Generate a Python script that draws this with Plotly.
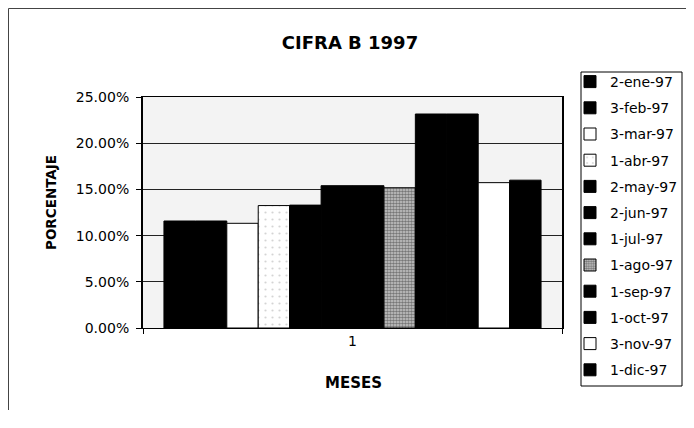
import plotly.graph_objects as go

# Datos (fracción, eje en %)
categoria = ["1"]
meses = ["2-ene-97", "3-feb-97", "3-mar-97", "1-abr-97", "2-may-97", "2-jun-97",
         "1-jul-97", "1-ago-97", "1-sep-97", "1-oct-97", "3-nov-97", "1-dic-97"]
valores = [0.1158, 0.1158, 0.1133, 0.1325, 0.1330, 0.1540,
           0.1540, 0.1518, 0.2316, 0.2316, 0.1573, 0.1600]

# relleno de cada barra: negro, blanco o trama
rellenos = ["black", "black", "white", "dots", "black", "black",
            "black", "grey", "black", "black", "white", "black"]

FONT = "DejaVu Sans"
# la página tiene 8 px de margen en el body: la figura se dibuja 8 px más pequeña
W, H = 686, 420
PL, PT, PW, PH = 135, 89, 419, 231   # área del gráfico en px de la figura


def px(x):  # px de figura -> coordenada paper
    return (x - PL) / PW


def py(y):
    return (PT + PH - y) / PH


fig = go.Figure()

for i, (mes, v, r) in enumerate(zip(meses, valores, rellenos)):
    marker = {"line": {"color": "black", "width": 1}}
    if r == "black":
        marker["color"] = "black"
    elif r == "white":
        marker["color"] = "white"
    elif r == "dots":
        marker["color"] = "white"
        marker["pattern"] = {"shape": ".", "fgcolor": "#aaa", "bgcolor": "white",
                             "size": 7, "solidity": 0.08}
    else:
        marker["color"] = "#888"
        marker["pattern"] = {"shape": ".", "fgcolor": "#222", "bgcolor": "#ccc",
                             "size": 3, "solidity": 0.6}
    fig.add_trace(go.Bar(
        x=categoria, y=[v], name=mes, marker=marker,
        legendgroup=f"g{i}",
    ))

fig.update_layout(
    width=W, height=H,
    barmode="group", bargap=0.1, bargroupgap=0,
    paper_bgcolor="white", plot_bgcolor="#f3f3f3",
    margin={"l": PL, "r": W - PL - PW, "t": PT, "b": H - PT - PH},
    font={"family": FONT, "size": 14, "color": "black"},
    title={
        "text": "<b>CIFRA B 1997</b>",
        "font": {"family": FONT, "size": 18, "color": "black"},
        "x": 342 / W, "xref": "container", "xanchor": "center",
        "y": 1 - 34.5 / H, "yref": "container", "yanchor": "middle",
    },
    legend={
        "xref": "container", "yref": "container",
        "x": 562 / W, "xanchor": "left", "y": 1 - 58 / H, "yanchor": "top",
        "borderwidth": 0, "bgcolor": "rgba(0,0,0,0)",
        "font": {"family": FONT, "size": 14, "color": "black"},
        "tracegroupgap": 5, "itemwidth": 30, "maxheight": 400,
    },
    showlegend=True,
)

fig.update_xaxes(
    type="category", tickson="boundaries", ticks="outside", ticklen=5,
    tickcolor="black", showline=True, linecolor="black", linewidth=1, mirror=True,
    showgrid=False, automargin=False, ticklabelstandoff=0,
)
fig.update_yaxes(
    range=[0, 0.25], dtick=0.05, tickformat=".2%",
    ticks="outside", ticklen=5, tickcolor="black", ticklabelstandoff=4,
    showline=True, linecolor="black", linewidth=2, mirror=True,
    showgrid=True, gridcolor="#222", gridwidth=1, zeroline=False, automargin=False,
)

# títulos de los ejes
fig.add_annotation(text="<b>PORCENTAJE</b>", xref="paper", yref="paper",
                   x=px(43), y=py(195), xanchor="center", yanchor="middle",
                   textangle=-90, showarrow=False,
                   font={"family": FONT, "size": 13.5, "color": "black"})
fig.add_annotation(text="<b>MESES</b>", xref="paper", yref="paper",
                   x=px(345), y=py(375), xanchor="center", yanchor="middle",
                   showarrow=False,
                   font={"family": FONT, "size": 15, "color": "black"})

# recuadro de la leyenda
fig.add_shape(type="rect", xref="paper", yref="paper",
              x0=px(573), x1=px(674), y0=py(64), y1=py(378),
              line={"color": "black", "width": 1}, fillcolor="white", layer="below")

# borde exterior del gráfico
fig.add_shape(type="line", xref="paper", yref="paper",
              x0=px(0.5), x1=px(W), y0=py(0.5), y1=py(0.5),
              line={"color": "#444", "width": 1})
fig.add_shape(type="line", xref="paper", yref="paper",
              x0=px(0.5), x1=px(0.5), y0=py(0.5), y1=py(402),
              line={"color": "#444", "width": 1})

fig.write_html("out.html")
